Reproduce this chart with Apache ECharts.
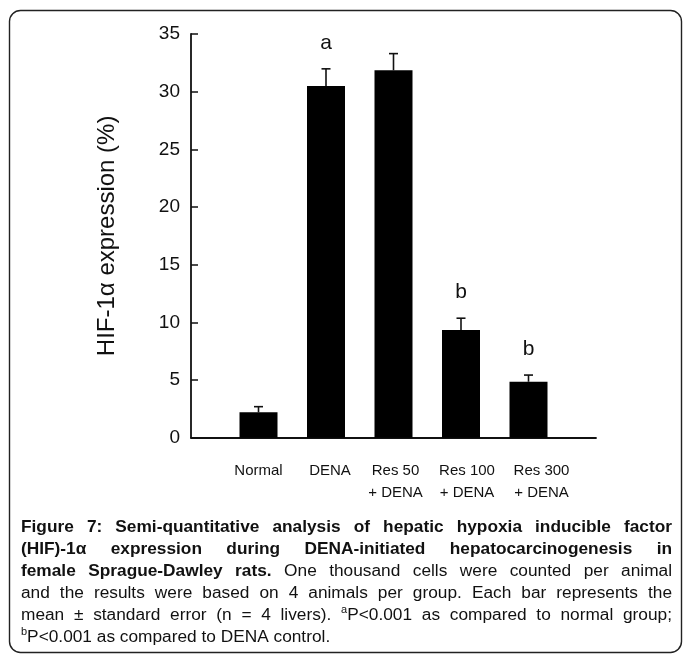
<!DOCTYPE html>
<html>
<head>
<meta charset="utf-8">
<script src="https://cdn.jsdelivr.net/npm/echarts@6/dist/echarts.min.js"></script>
<style>
html,body{margin:0;padding:0;background:#fff;}
#chart{width:683px;height:655px;}
</style>
</head>
<body>
<div id="chart"></div>
<script>
// ---- data ----
const categories = ['', 'Normal', 'DENA', 'Res 50\n+ DENA', 'Res 100\n+ DENA', 'Res 300\n+ DENA', ''];
const means = [null, 2.2, 30.5, 31.85, 9.34, 4.85, null];
const stdErr = [null, 0.49, 1.48, 1.45, 1.02, 0.58, null];
const sigLetters = ['', '', 'a', '', 'b', 'b', ''];
const yTickMin = 0, yTickMax = 35, yTickStep = 5;
const yAxisTitle = 'HIF-1\u03b1 expression (%)';
const captionLines = [
  [['Figure 7: Semi-quantitative analysis of hepatic hypoxia inducible factor', 'b']],
  [['(HIF)-1\u03b1 expression during DENA-initiated hepatocarcinogenesis in', 'b']],
  [['female Sprague-Dawley rats.', 'b'], [' One thousand cells were counted per animal', 'r']],
  [['and the results were based on 4 animals per group. Each bar represents the', 'r']],
  [['mean \u00b1 standard error (n = 4 livers). ', 'r'], ['a', 's'], ['P<0.001 as compared to normal group;', 'r']],
  [['b', 's'], ['P<0.001 as compared to DENA control.', 'r']]
];

// ---- layout ----
const FONT = '"Liberation Sans", Arial, sans-serif';
const CAP_SIZE = 17.3;
const labelShift = [0, 0, 4, 2, 6, 13, 0];

const chart = echarts.init(document.getElementById('chart'), null, {renderer: 'canvas'});

// caption builder (justified text)
const mctx = document.createElement('canvas').getContext('2d');
function fontOf(kind) {
  if (kind === 'b') return 'bold ' + CAP_SIZE + 'px ' + FONT;
  if (kind === 's') return '11px ' + FONT;
  return CAP_SIZE + 'px ' + FONT;
}
function measure(t, kind) { mctx.font = fontOf(kind); return mctx.measureText(t).width; }
function buildCaption() {
  const els = [];
  const left = 21, right = 672, y0 = 527, step = 22;
  captionLines.forEach((segs, li) => {
    const words = [];
    let cur = null;
    segs.forEach(([text, kind]) => {
      const toks = text.split(' ');
      toks.forEach((tok, i) => {
        if (!(i === 0 && cur)) { cur = []; words.push(cur); }
        if (tok) cur.push({t: tok, k: kind});
      });
    });
    const ws = words.filter(w => w.length);
    const widths = ws.map(w => w.reduce((s, p) => s + measure(p.t, p.k), 0));
    const total = widths.reduce((a, b) => a + b, 0);
    const justify = li < captionLines.length - 1;
    const gap = justify ? (right - left - total) / (ws.length - 1) : measure(' ', 'r');
    let x = left;
    const y = y0 + li * step;
    ws.forEach((w, wi) => {
      let px = x;
      w.forEach(p => {
        els.push({
          type: 'text', x: px, y: p.k === 's' ? y - 5 : y, silent: true,
          style: {text: p.t, font: fontOf(p.k), fill: '#111', align: 'left', verticalAlign: 'middle'}
        });
        px += measure(p.t, p.k);
      });
      x += widths[wi] + gap;
    });
  });
  return els;
}

const graphics = [{
  type: 'rect', silent: true,
  shape: {x: 9.5, y: 10.5, width: 672, height: 642, r: 11},
  style: {fill: 'none', stroke: '#222', lineWidth: 1.4}
}].concat(buildCaption());

const errData = categories.map((c, i) => means[i] == null ? null : [i, means[i], stdErr[i]]).filter(d => d);

const option = {
  animation: false,
  backgroundColor: '#fff',
  grid: {left: 191, top: 34, width: 405, height: 403.7, containLabel: false},
  xAxis: {
    type: 'category', data: categories, boundaryGap: false,
    axisLine: {lineStyle: {color: '#111', width: 1.8}},
    axisTick: {show: false},
    axisLabel: {
      interval: 0, margin: 22,
      formatter: (v, i) => v ? v.split('\n').map(s => '{c' + i + '|' + s + '}').join('\n') : '',
      rich: Object.fromEntries(labelShift.map((s, i) => ['c' + i, {
        fontFamily: FONT, fontSize: 15, color: '#111', lineHeight: 22, padding: [0, 0, 0, 2 * s]
      }]))
    },
    splitLine: {show: false}
  },
  yAxis: {
    type: 'value', min: yTickMin, max: yTickMax, interval: yTickStep,
    name: yAxisTitle, nameLocation: 'middle', nameGap: 72, nameRotate: 90,
    nameTextStyle: {fontFamily: FONT, fontSize: 24, color: '#111'},
    axisLine: {show: true, lineStyle: {color: '#111', width: 1.8}},
    axisTick: {show: true, inside: true, length: 7, lineStyle: {color: '#111', width: 1.5}},
    axisLabel: {margin: 11, fontFamily: FONT, fontSize: 19, color: '#111'},
    splitLine: {show: false}
  },
  series: [
    {
      type: 'bar', data: means, barWidth: 38,
      itemStyle: {color: '#000'}, silent: true
    },
    {
      type: 'custom', data: errData, encode: {x: 0, y: 1}, z: 3, silent: true,
      renderItem: (params, api) => {
        const idx = api.value(0), m = api.value(1), se = api.value(2);
        const letter = sigLetters[idx];
        const b = api.coord([idx, m]);
        const t = api.coord([idx, m + se]);
        const children = [
          {type: 'line', shape: {x1: b[0], y1: b[1], x2: t[0], y2: t[1]}, style: {stroke: '#111', lineWidth: 1.6}},
          {type: 'line', shape: {x1: t[0] - 4.5, y1: t[1], x2: t[0] + 4.5, y2: t[1]}, style: {stroke: '#111', lineWidth: 1.6}}
        ];
        if (letter) {
          children.push({type: 'text', x: t[0], y: t[1] - 26,
            style: {text: letter, font: '21px ' + FONT, fill: '#111', align: 'center', verticalAlign: 'middle'}});
        }
        return {type: 'group', children};
      }
    }
  ],
  graphic: graphics
};
chart.setOption(option);
</script>
</body>
</html>
